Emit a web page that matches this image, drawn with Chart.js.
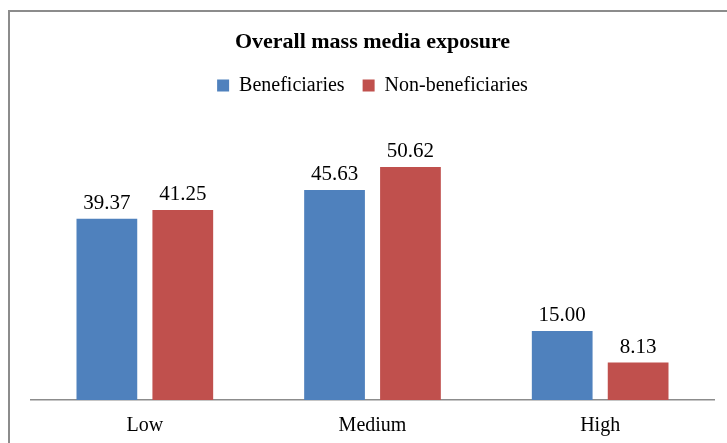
<!DOCTYPE html>
<html>
<head>
<meta charset="utf-8">
<script src="https://cdn.jsdelivr.net/npm/chart.js@4.4.1/dist/chart.umd.min.js"></script>
<style>
    body { margin: 0; background: #fff; }
    #frame { position: absolute; left: 8px; top: 10px; width: 760px; height: 480px; border: 2px solid #8c8c8c; }
    #wrap { position: absolute; left: 0; top: 0; width: 727px; height: 443px; }
</style>
</head>
<body>
<div id="frame"></div>
<div id="wrap"><canvas id="bars" width="727" height="443"></canvas></div>
<script>
const categories = ['Low', 'Medium', 'High'];
const beneficiaries = [39.37, 45.63, 15.00];
const nonBeneficiaries = [41.25, 50.62, 8.13];

// Draw the value above each bar
const valueLabels = {
    id: 'valueLabels',
    afterDatasetsDraw(chart) {
        const ctx = chart.ctx;
        ctx.save();
        ctx.font = '21px "Liberation Serif"';
        ctx.fillStyle = '#000';
        ctx.textAlign = 'center';
        ctx.textBaseline = 'alphabetic';
        chart.data.datasets.forEach((ds, i) => {
            chart.getDatasetMeta(i).data.forEach((bar, j) => {
                ctx.fillText(ds.data[j].toFixed(2), bar.x, bar.y - 10);
            });
        });
        ctx.restore();
    }
};

const ctx = document.getElementById('bars').getContext('2d');

new Chart(ctx, {
    type: 'bar',
    data: {
        labels: categories,
        datasets: [
            { label: 'Beneficiaries', data: beneficiaries, backgroundColor: '#4F81BD' },
            { label: 'Non-beneficiaries', data: nonBeneficiaries, backgroundColor: '#C0504D' }
        ]
    },
    options: {
        responsive: false,
        animation: false,
        layout: { padding: { left: 31, right: 13, top: 29, bottom: 7 } },
        datasets: { bar: { categoryPercentage: 0.667, barPercentage: 0.8 } },
        scales: {
            x: {
                grid: { display: false, drawTicks: false, tickLength: 0 },
                border: { display: true, color: '#8c8c8c', width: 1.5 },
                ticks: { color: '#000', padding: 14, font: { family: 'Liberation Serif', size: 20 } },
                afterFit(scale) { scale.height = 36; }
            },
            y: { display: false, min: 0, max: 64 }
        },
        plugins: {
            title: {
                display: true,
                text: 'Overall mass media exposure',
                color: '#000',
                font: { family: 'Liberation Serif', size: 22, weight: 'bold' },
                padding: { top: 0, bottom: 2 }
            },
            legend: {
                labels: {
                    color: '#000',
                    boxWidth: 12,
                    boxHeight: 12,
                    padding: 18,
                    font: { family: 'Liberation Serif', size: 20 }
                }
            },
            tooltip: { enabled: false }
        }
    },
    plugins: [valueLabels]
});
</script>
</body>
</html>
